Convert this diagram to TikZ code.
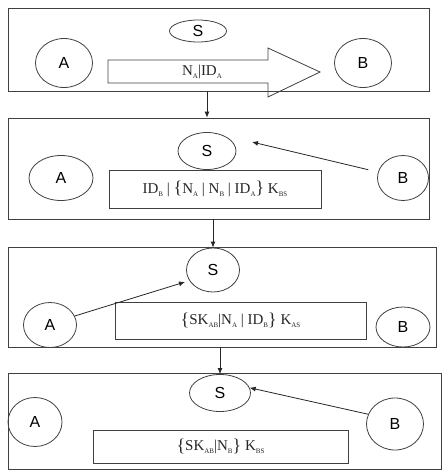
\documentclass[tikz,border=0pt]{standalone}
\usepackage{fontspec}
\setmainfont{Liberation Serif}
\newfontfamily\arial{Liberation Sans}
\usetikzlibrary{shapes.geometric,arrows.meta}
\newcommand{\sbs}[1]{\raisebox{-0.4ex}{\fontsize{7}{8}\selectfont #1}}
\newcommand{\lbr}{\raisebox{-0.1ex}{\fontsize{18}{18}\selectfont\{}}
\newcommand{\rbr}{\raisebox{-0.1ex}{\fontsize{18}{18}\selectfont\}}}

\begin{document}
\begin{tikzpicture}[x=1pt,y=-1pt,>={Latex[length=6pt,width=5pt]},
   panel/.style={draw=black!75,line width=0.8pt},
   party/.style={ellipse,draw=black!75,line width=0.8pt,inner sep=0pt,font=\arial\fontsize{16}{18}\selectfont},
   msgbox/.style={draw=black!75,line width=0.8pt,text=black!85,font=\fontsize{15}{17}\selectfont}]
   \useasboundingbox (0,0) rectangle (443,475);
   \node[panel,minimum width=421,minimum height=83] (p1) at (218.5,49.5) {};
   \node[panel,minimum width=421,minimum height=101] (p2) at (218.5,168.5) {};
   \node[panel,minimum width=428,minimum height=100] (p3) at (222,297) {};
   \node[panel,minimum width=433,minimum height=96] (p4) at (224.5,421) {};

   \node[party,minimum width=57,minimum height=22] (s1) at (198,31) {S};
   \node[party,minimum width=57,minimum height=49] (a1) at (64,63) {A};
   \node[party,minimum width=57,minimum height=49] (b1) at (363,63) {B};
   \draw[draw=black!75,line width=0.8pt] (108,60) -- (268,60) -- (268,48) -- (320,72) -- (268,97) -- (268,83) -- (108,83) -- cycle;
   \node[text=black!85,font=\fontsize{15}{17}\selectfont] (m1) at (202,72) {N\sbs{A}|ID\sbs{A}};

   \node[party,minimum width=58,minimum height=37] (s2) at (207,151) {S};
   \node[party,minimum width=64,minimum height=45] (a2) at (61,178) {A};
   \node[party,minimum width=51,minimum height=45] (b2) at (403,178) {B};
   \node[msgbox,minimum width=212,minimum height=38] (m2) at (215,189) {ID\sbs{B} | \lbr N\sbs{A} | N\sbs{B} | ID\sbs{A}\rbr\ K\sbs{BS}};
   \coordinate (t2) at (252,142);
   \draw[->,black!85,line width=0.8pt,shorten <=10pt] (b2) -- (t2);

   \node[party,minimum width=53,minimum height=44] (s3) at (213,270) {S};
   \node[party,minimum width=53,minimum height=45] (a3) at (50,325) {A};
   \node[party,minimum width=54,minimum height=40] (b3) at (403,327) {B};
   \node[msgbox,minimum width=251,minimum height=37] (m3) at (240.5,320.5) {\lbr SK\sbs{AB}|N\sbs{A} | ID\sbs{B}\rbr\ K\sbs{AS}};
   \coordinate (t3) at (185,282);
   \draw[->,black!85,line width=0.8pt] (a3.20) -- (t3);

   \node[party,minimum width=61,minimum height=37] (s4) at (220,393) {S};
   \node[party,minimum width=54,minimum height=49] (a4) at (35,422) {A};
   \node[party,minimum width=57,minimum height=52] (b4) at (395,424) {B};
   \node[msgbox,minimum width=255,minimum height=33] (m4) at (220.5,446.5) {\lbr SK\sbs{AB}|N\sbs{B}\rbr\ K\sbs{BS}};
   \draw[->,black!85,line width=0.8pt] (b4.160) -- (s4.10);

   \draw[->,black!85,line width=0.8pt] (p1.south -| s2) -- (p2.north -| s2);
   \draw[->,black!85,line width=0.8pt] (p2.south -| s3) -- (s3.north);
   \draw[->,black!85,line width=0.8pt] (p3.south -| s4) -- (s4.north);
\end{tikzpicture}
\end{document}
